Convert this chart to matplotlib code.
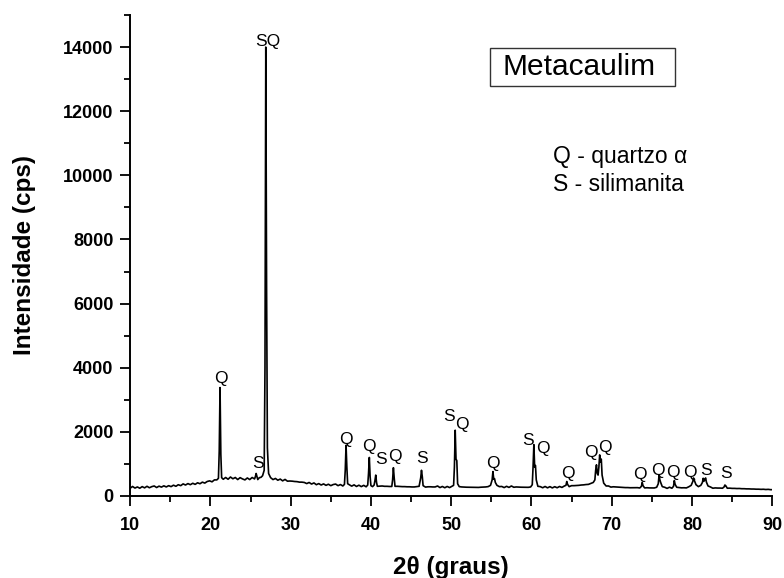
import matplotlib
matplotlib.use("Agg")
import matplotlib.pyplot as plt
from matplotlib.patches import Rectangle
from matplotlib.ticker import MultipleLocator

plt.rcParams['font.family'] = ['Liberation Sans', 'DejaVu Sans']

# XRD pattern of metakaolin (2theta in degrees, counts)
two_theta = [
    10.0, 10.3, 10.6, 10.9, 11.2, 11.5, 11.8, 12.1, 12.4, 12.7, 13.0, 13.3, 13.6, 13.9,
    14.2, 14.5, 14.8, 15.1, 15.4, 15.7, 16.0, 16.3, 16.6, 16.9, 17.2, 17.5, 17.8, 18.1,
    18.4, 18.7, 19.0, 19.3, 19.6, 19.9, 20.2, 20.5, 20.8, 21.0, 21.1, 21.2, 21.3, 21.4,
    21.6, 21.9, 22.2, 22.5, 22.8, 23.1, 23.4, 23.7, 24.0, 24.3, 24.6, 24.9, 25.2, 25.5,
    25.6, 25.7, 25.8, 25.9, 26.1, 26.3, 26.5, 26.7, 26.8, 26.9, 27.0, 27.1, 27.25,
    27.5, 27.8, 28.1, 28.4, 28.7, 29.0, 29.3, 29.6, 29.9, 30.2, 30.5, 30.8, 31.1, 31.4,
    31.7, 32.0, 32.3, 32.6, 32.9, 33.2, 33.5, 33.8, 34.1, 34.4, 34.7, 35.0, 35.3, 35.6,
    35.9, 36.2, 36.5, 36.7, 36.8, 36.9, 37.0, 37.1,
    37.3, 37.6, 37.9, 38.2, 38.5, 38.8, 39.1, 39.4, 39.6, 39.7, 39.8, 39.9, 40.0, 40.2,
    40.4, 40.5, 40.6, 40.7, 40.8, 41.1, 41.4, 41.7, 42.0, 42.3, 42.6, 42.7, 42.8, 42.9,
    43.0, 43.3, 43.6, 43.9, 44.2, 44.5, 44.8, 45.1, 45.4, 45.7, 46.0, 46.2, 46.3, 46.4,
    46.5, 46.8, 47.1, 47.4, 47.7, 48.0, 48.3, 48.6, 48.9, 49.2, 49.5, 49.8, 50.1, 50.3,
    50.4, 50.5, 50.6, 50.7, 50.8, 51.0, 51.3, 51.6, 51.9, 52.2, 52.5, 52.8, 53.1, 53.4,
    53.7, 54.0, 54.3, 54.6, 54.9, 55.1, 55.2, 55.3, 55.4, 55.5, 55.7, 56.0, 56.3, 56.6,
    56.9, 57.2, 57.5, 57.8, 58.1, 58.4, 58.7, 59.0, 59.3, 59.6, 59.9, 60.1, 60.2, 60.3,
    60.4, 60.5, 60.6, 60.8, 61.1, 61.4, 61.7, 62.0, 62.3, 62.6, 62.9, 63.2, 63.5, 63.8,
    64.1, 64.3, 64.4, 64.5, 64.7, 65.0, 65.3, 65.6, 65.9, 66.2, 66.5, 66.8, 67.1, 67.4,
    67.7, 67.9, 68.0, 68.1, 68.2, 68.3, 68.4, 68.5, 68.6, 68.7, 68.8, 69.0, 69.3, 69.6,
    69.9, 70.2, 70.5, 70.8, 71.1, 71.4, 71.7, 72.0, 72.3, 72.6, 72.9, 73.2, 73.5, 73.7,
    73.8, 73.9, 74.1, 74.4, 74.7, 75.0, 75.3, 75.6, 75.8, 75.9, 76.0, 76.1, 76.3, 76.6,
    76.9, 77.2, 77.5, 77.7, 77.8, 77.9, 78.1, 78.4, 78.7, 79.0, 79.3, 79.6, 79.9, 80.1,
    80.2, 80.3, 80.5, 80.8, 81.1, 81.3, 81.4, 81.5, 81.6, 81.7, 81.8, 82.0, 82.3, 82.6,
    82.9, 83.2, 83.5, 83.8, 84.0, 84.1, 84.2, 84.4, 84.7, 85.0, 85.3, 85.6, 85.9, 86.2,
    86.5, 86.8, 87.1, 87.4, 87.7, 88.0, 88.3, 88.6, 88.9, 89.2, 89.5, 89.8, 90.0,
]
intensity = [
    240, 295, 245, 280, 240, 290, 252, 300, 255, 290, 310, 262, 305, 275,
    315, 280, 320, 290, 335, 300, 350, 320, 375, 340, 385, 350, 395, 360,
    410, 380, 430, 400, 450, 470, 440, 500, 500, 550, 1400, 3380, 1300, 570,
    520, 575, 520, 590, 535, 575, 510, 570, 530, 500, 560, 510, 575, 530,
    600, 700, 610, 510, 570, 580, 630, 800, 4000, 14000, 6500, 1500, 700,
    570, 510, 545, 490, 525, 470, 515, 460, 465, 460, 450, 445, 430, 430,
    420, 385, 420, 370, 405, 350, 385, 340, 375, 330, 365, 320, 355, 370,
    320, 355, 310, 360, 800, 1580, 900, 380,
    350, 305, 345, 295, 335, 290, 330, 285, 340, 700, 1200, 600, 320, 290,
    340, 480, 650, 420, 300, 305, 310, 300, 300, 295, 295, 500, 880, 560,
    300, 300, 295, 290, 290, 285, 285, 280, 280, 290, 300, 560, 800, 600,
    320, 275, 285, 285, 280, 280, 310, 260, 295, 255, 295, 260, 300, 330,
    900, 2050, 1150, 1100, 380, 290, 280, 275, 272, 270, 270, 268, 268, 265,
    272, 275, 280, 290, 330, 500, 760, 520, 540, 420, 330, 290, 295, 260,
    300, 265, 310, 270, 280, 275, 272, 270, 270, 268, 280, 350, 900, 1600,
    900, 950, 500, 300, 290, 255, 295, 252, 290, 250, 288, 255, 295, 265,
    310, 330, 450, 360, 290, 320, 320, 325, 330, 340, 345, 355, 360, 390,
    420, 500, 800, 970, 700, 650, 900, 1280, 1050, 1150, 650, 400, 310, 310,
    275, 285, 280, 275, 270, 265, 260, 260, 255, 255, 252, 258, 248, 300,
    420, 320, 250, 255, 250, 250, 248, 270, 380, 650, 500, 420, 290, 270,
    235, 272, 240, 300, 480, 360, 270, 260, 252, 255, 250, 285, 330, 450,
    560, 480, 350, 290, 330, 420, 550, 460, 520, 560, 430, 310, 280, 240,
    250, 245, 245, 240, 280, 340, 320, 240, 242, 235, 235, 230, 232, 225,
    225, 220, 220, 215, 215, 210, 210, 205, 208, 200, 205, 195, 195,
]

# phase labels: text, 2theta centre, bottom of text (counts)
peak_text = ["Q", "S", "SQ", "Q", "Q", "S", "Q", "S", "S", "Q", "Q", "S", "Q",
             "Q", "Q", "Q", "Q", "Q", "Q", "Q", "S", "S"]
peak_x = [21.3, 25.9, 27.1, 36.9, 39.7, 41.2, 43.0, 46.35, 49.75, 51.3, 55.2, 59.55, 61.4,
          64.55, 67.45, 69.1, 73.55, 75.7, 77.6, 79.7, 81.7, 84.3]
peak_y = [3420, 780, 13950, 1530, 1300, 900, 1000, 940, 2250, 1980, 780, 1500, 1260,
          480, 1110, 1280, 420, 570, 490, 490, 570, 470]

fig = plt.figure(figsize=(7.84, 5.78), dpi=100)
ax = fig.add_axes([0.166, 0.142, 0.819, 0.832])

ax.plot(two_theta, intensity, color='black', linewidth=1.2)

for t, x, y in zip(peak_text, peak_x, peak_y):
    ax.text(x, y, t, ha='center', va='bottom', fontsize=12.5)

# title box (frame drawn in axes fraction, text left aligned inside it)
ax.add_patch(Rectangle((0.561, 0.852), 0.288, 0.080, transform=ax.transAxes,
                       facecolor='white', edgecolor='#333333', linewidth=1.0, zorder=3))
ax.text(0.5794, 0.892, "Metacaulim", transform=ax.transAxes, ha='left', va='center',
        fontsize=21.5, zorder=4)
ax.text(62.7, 10580, "Q - quartzo α", ha='left', va='center', fontsize=16.5)
ax.text(62.7, 9720, "S - silimanita", ha='left', va='center', fontsize=16.5)

ax.set_xlim(10, 90)
ax.set_ylim(0, 15000)
ax.xaxis.set_major_locator(MultipleLocator(10))
ax.xaxis.set_minor_locator(MultipleLocator(5))
ax.yaxis.set_major_locator(MultipleLocator(2000))
ax.yaxis.set_minor_locator(MultipleLocator(1000))

for side in ['top', 'right']:
    ax.spines[side].set_visible(False)
for side in ['left', 'bottom']:
    ax.spines[side].set_linewidth(1.4)

ax.tick_params(which='major', direction='out', length=7, width=1.3, labelsize=13, pad=5)
ax.tick_params(axis='x', which='major', pad=8)
ax.tick_params(which='minor', direction='out', length=4, width=1.3)
for lab in ax.get_xticklabels() + ax.get_yticklabels():
    lab.set_fontweight('bold')

ax.set_xlabel("2θ (graus)", fontsize=17.5, fontweight='bold', labelpad=16)
ax.set_ylabel("Intensidade (cps)", fontsize=17.5, fontweight='bold', labelpad=19.5)

fig.savefig("out.png", dpi=100)
